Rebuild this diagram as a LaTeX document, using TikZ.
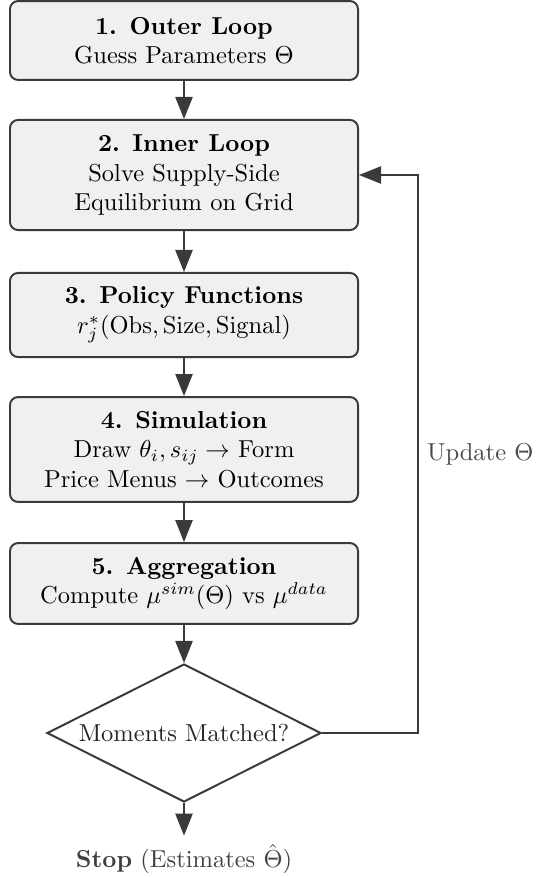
\documentclass[tikz,border=0pt]{standalone}
\usetikzlibrary{shapes.geometric,arrows.meta}
\definecolor{boxfill}{HTML}{F0F0F0}
\definecolor{edgecol}{HTML}{3A3A3A}
\definecolor{lblcol}{HTML}{4A4A4A}
\begin{document}
\begin{tikzpicture}[x=0.408pt,y=-0.408pt,
  stepbox/.style={draw=edgecol, fill=boxfill, line width=0.8pt, rounded corners=3.3pt,
    minimum width=142pt, align=center, inner sep=0pt},
  decision/.style={diamond, draw=edgecol, fill=white, line width=0.8pt,
    minimum width=111.8pt, minimum height=56.3pt, aspect=2, inner sep=0pt, text=black!85},
  arr/.style={draw=edgecol, line width=0.8pt, -{Triangle[length=9pt,width=7pt]}},
  lbl/.style={text=lblcol}]
\useasboundingbox (0,0) rectangle (535,877);
\node[stepbox, minimum height=32.2pt] (b1) at (184,40.5)
  {\textbf{1. Outer Loop}\\Guess Parameters $\Theta$};
\node[stepbox, minimum height=44.9pt] (b2) at (184,175)
  {\textbf{2. Inner Loop}\\Solve Supply-Side\\Equilibrium on Grid};
\node[stepbox, minimum height=34.3pt] (b3) at (184,315)
  {\textbf{3. Policy Functions}\\$r_j^*(\mathrm{Obs},\mathrm{Size},\mathrm{Signal})$};
\node[stepbox, minimum height=42.8pt] (b4) at (184,449.5)
  {\textbf{4. Simulation}\\Draw $\theta_i, s_{ij} \rightarrow$ Form\\Price Menus $\rightarrow$ Outcomes};
\node[stepbox, minimum height=33pt] (b5) at (184,583.5)
  {\textbf{5. Aggregation}\\Compute $\mu^{sim}(\Theta)$ vs $\mu^{data}$};
\node[decision] (d) at (184,733) {Moments Matched?};
\node[lbl, text=black!75] (stop) at (184,859) {\textbf{Stop} (Estimates $\hat{\Theta}$)};
\coordinate (fb) at (418,0);
\draw[arr] (b1) -- (b2);
\draw[arr] (b2) -- (b3);
\draw[arr] (b3) -- (b4);
\draw[arr] (b4) -- (b5);
\draw[arr] (b5) -- (d);
\draw[arr] (d.south) -- (stop.north);
\draw[arr] (d.east) -- (d.east -| fb) -- node[right, lbl] {Update $\Theta$} (b2.east -| fb) -- (b2.east);
\end{tikzpicture}
\end{document}
